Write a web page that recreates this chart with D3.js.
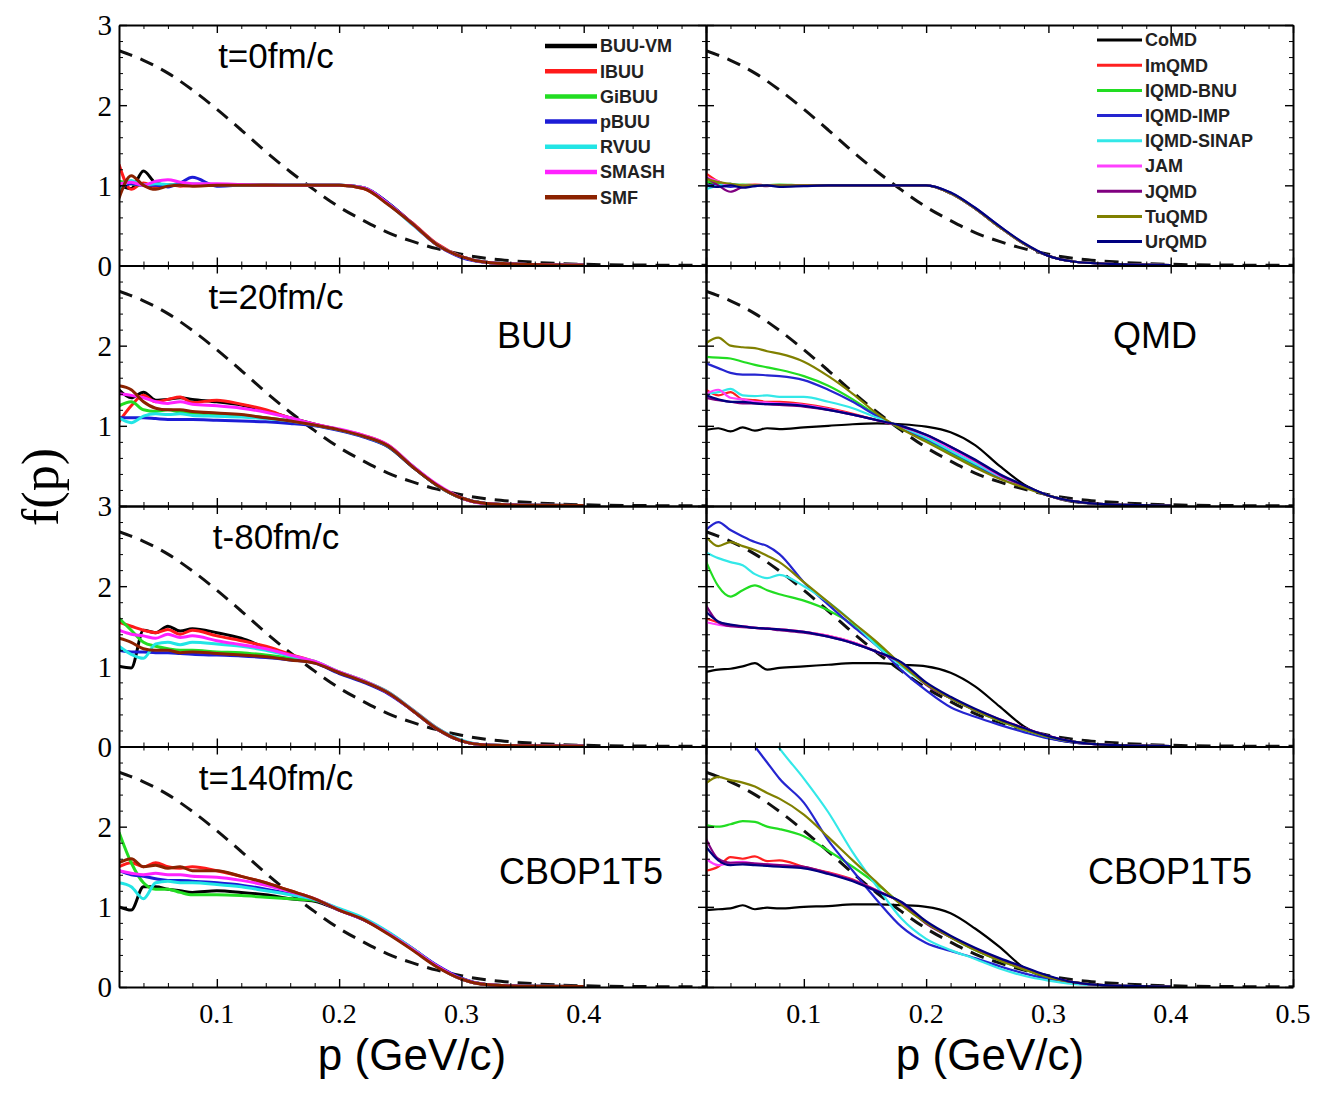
<!DOCTYPE html>
<html>
<head>
<meta charset="utf-8">
<script src="https://cdn.jsdelivr.net/npm/d3@7"></script>
<style>
  body { margin: 0; background: #fff; }
  svg { display: block; }
</style>
</head>
<body>
<svg width="1320" height="1093"></svg>
<script>
// momentum grid shared by every transport curve (GeV/c)
const pGrid = [0.02,0.03,0.04,0.05,0.06,0.07,0.08,0.10,0.12,0.14,0.16,0.18,0.20,0.22,0.24,0.26,0.28,0.30,0.32,0.35,0.40]

// dashed reference curve (same in all panels)
const refP = [0.02,0.04,0.06,0.08,0.10,0.12,0.14,0.16,0.18,0.20,0.22,0.24,0.26,0.28,0.30,0.32,0.34,0.36,0.38,0.40,0.45,0.50]
const refF = [2.68,2.56,2.40,2.19,1.95,1.69,1.42,1.17,0.94,0.73,0.56,0.41,0.30,0.21,0.14,0.09,0.06,0.04,0.024,0.015,0.005,0.002]

// model names
const buuModels = ['BUU-VM','IBUU','GiBUU','pBUU','RVUU','SMASH','SMF']
const qmdModels = ['CoMD','ImQMD','IQMD-BNU','IQMD-IMP','IQMD-SINAP','JAM','JQMD','TuQMD','UrQMD']

// BUU type codes, one row per model (same order as buuModels)
const buuT0 = [
  [1.00,0.96,1.18,1.03,1.00,1.02,1.00,1.01,1.00,1.00,1.00,1.00,1.00,0.97,0.78,0.52,0.26,0.11,0.04,0.015,0.005],
  [1.26,0.95,1.03,0.98,1.01,0.99,1.00,1.00,1.00,1.01,1.00,1.00,1.00,0.96,0.77,0.53,0.27,0.11,0.04,0.015,0.005],
  [1.05,1.02,1.00,1.02,1.00,1.01,1.00,1.00,1.00,1.00,1.00,1.00,1.00,0.97,0.77,0.52,0.26,0.11,0.04,0.015,0.005],
  [0.95,1.02,1.00,1.00,0.98,1.03,1.10,0.99,1.00,1.00,1.00,1.00,1.00,0.97,0.78,0.52,0.26,0.10,0.04,0.015,0.005],
  [0.92,1.06,1.00,1.02,1.01,1.00,1.02,1.01,1.00,1.00,1.00,1.00,1.00,0.97,0.77,0.51,0.26,0.11,0.04,0.015,0.005],
  [1.02,1.04,1.00,1.05,1.07,1.04,1.02,1.02,1.01,1.00,1.00,1.00,1.00,0.97,0.77,0.52,0.26,0.11,0.04,0.015,0.005],
  [0.84,1.12,1.00,0.95,0.99,1.00,0.99,1.00,1.00,1.00,1.00,1.00,1.00,0.96,0.76,0.52,0.26,0.11,0.04,0.015,0.005]
]
const buuT20 = [
  [1.45,1.35,1.42,1.32,1.33,1.35,1.33,1.30,1.26,1.19,1.10,1.02,0.95,0.87,0.75,0.49,0.26,0.10,0.03,0.01,0.005],
  [1.05,1.25,1.38,1.30,1.33,1.36,1.29,1.32,1.27,1.20,1.10,1.02,0.95,0.88,0.76,0.50,0.26,0.10,0.03,0.01,0.005],
  [1.25,1.30,1.20,1.18,1.20,1.17,1.16,1.15,1.13,1.10,1.06,1.01,0.95,0.87,0.74,0.49,0.26,0.10,0.03,0.01,0.005],
  [1.10,1.10,1.10,1.09,1.08,1.08,1.08,1.07,1.06,1.05,1.03,1.00,0.94,0.86,0.74,0.49,0.26,0.10,0.03,0.01,0.005],
  [1.10,1.04,1.12,1.15,1.14,1.15,1.13,1.12,1.11,1.09,1.06,1.01,0.95,0.87,0.75,0.50,0.26,0.10,0.03,0.01,0.005],
  [1.40,1.38,1.35,1.30,1.28,1.30,1.27,1.25,1.22,1.17,1.10,1.02,0.96,0.88,0.76,0.50,0.27,0.10,0.03,0.01,0.005],
  [1.50,1.45,1.30,1.22,1.20,1.20,1.18,1.16,1.14,1.10,1.06,1.01,0.95,0.87,0.75,0.49,0.26,0.10,0.03,0.01,0.005]
]
const buuT80 = [
  [1.00,0.98,1.45,1.42,1.50,1.44,1.47,1.42,1.35,1.23,1.13,1.05,0.92,0.81,0.67,0.45,0.22,0.07,0.02,0.01,0.005],
  [1.55,1.50,1.45,1.42,1.46,1.40,1.45,1.38,1.32,1.25,1.15,1.06,0.93,0.82,0.68,0.46,0.23,0.07,0.02,0.01,0.005],
  [1.60,1.45,1.30,1.25,1.22,1.20,1.20,1.18,1.17,1.14,1.10,1.05,0.92,0.81,0.67,0.45,0.22,0.07,0.02,0.01,0.005],
  [1.20,1.18,1.18,1.17,1.17,1.16,1.15,1.14,1.13,1.11,1.08,1.04,0.91,0.80,0.66,0.45,0.22,0.07,0.02,0.01,0.005],
  [1.25,1.15,1.10,1.28,1.30,1.27,1.30,1.28,1.25,1.20,1.13,1.06,0.93,0.82,0.68,0.46,0.23,0.08,0.02,0.01,0.005],
  [1.45,1.40,1.38,1.35,1.40,1.36,1.38,1.32,1.27,1.22,1.14,1.06,0.93,0.82,0.67,0.45,0.22,0.07,0.02,0.01,0.005],
  [1.35,1.30,1.22,1.20,1.20,1.17,1.18,1.16,1.14,1.12,1.08,1.04,0.92,0.81,0.67,0.45,0.22,0.07,0.02,0.01,0.005]
]
const buuT140 = [
  [1.00,0.96,1.25,1.25,1.22,1.20,1.18,1.20,1.18,1.15,1.10,1.07,0.96,0.84,0.67,0.47,0.26,0.10,0.03,0.01,0.005],
  [1.50,1.55,1.50,1.55,1.50,1.48,1.50,1.45,1.38,1.30,1.20,1.10,0.97,0.85,0.68,0.48,0.26,0.10,0.03,0.01,0.005],
  [1.93,1.55,1.30,1.22,1.22,1.18,1.15,1.15,1.14,1.12,1.10,1.08,0.97,0.85,0.68,0.47,0.26,0.10,0.03,0.01,0.005],
  [1.45,1.40,1.38,1.35,1.33,1.33,1.32,1.30,1.27,1.22,1.16,1.09,0.96,0.84,0.68,0.48,0.27,0.11,0.03,0.01,0.005],
  [1.30,1.25,1.10,1.30,1.32,1.30,1.30,1.28,1.25,1.20,1.15,1.09,0.98,0.86,0.69,0.48,0.26,0.10,0.03,0.01,0.005],
  [1.45,1.42,1.40,1.42,1.40,1.40,1.38,1.37,1.33,1.27,1.19,1.10,0.96,0.84,0.67,0.47,0.26,0.10,0.03,0.01,0.005],
  [1.55,1.60,1.50,1.52,1.48,1.50,1.45,1.45,1.38,1.30,1.20,1.10,0.96,0.84,0.66,0.46,0.25,0.10,0.03,0.01,0.005]
]

// QMD type codes, one row per model (same order as qmdModels)
const qmdT0 = [
  [1.05,1.00,1.02,0.98,1.00,1.00,0.99,1.00,1.00,1.00,1.00,1.00,1.00,0.90,0.71,0.48,0.27,0.12,0.05,0.02,0.005],
  [1.15,1.05,1.00,1.00,1.01,1.00,1.00,1.00,1.00,1.00,1.00,1.00,1.00,0.90,0.71,0.48,0.27,0.12,0.05,0.02,0.005],
  [1.05,1.02,1.00,1.01,1.00,1.00,1.01,1.00,1.00,1.00,1.00,1.00,1.00,0.90,0.71,0.48,0.27,0.12,0.05,0.02,0.005],
  [1.00,1.00,0.98,1.00,0.99,1.00,1.00,1.00,1.00,1.00,1.00,1.00,1.00,0.91,0.72,0.49,0.27,0.12,0.05,0.02,0.005],
  [0.95,1.00,1.02,1.00,1.00,1.00,1.00,1.00,1.00,1.00,1.00,1.00,1.00,0.90,0.71,0.48,0.27,0.12,0.05,0.02,0.005],
  [1.10,1.05,1.00,1.00,1.00,1.00,1.00,1.00,1.00,1.00,1.00,1.00,1.00,0.90,0.71,0.48,0.27,0.12,0.05,0.02,0.005],
  [1.10,1.00,0.92,0.98,1.00,0.99,1.00,1.00,1.00,1.00,1.00,1.00,1.00,0.90,0.71,0.48,0.27,0.12,0.05,0.02,0.005],
  [1.08,1.04,1.02,1.00,1.00,1.00,1.00,1.00,1.00,1.00,1.00,1.00,1.00,0.90,0.71,0.48,0.27,0.12,0.05,0.02,0.005],
  [1.00,0.98,1.00,0.97,0.99,1.00,0.98,0.99,1.00,1.00,1.00,1.00,1.00,0.91,0.72,0.49,0.28,0.12,0.05,0.02,0.005]
]
const qmdT20 = [
  [0.95,0.97,0.93,0.98,0.94,0.97,0.96,0.98,1.00,1.02,1.03,1.02,0.99,0.92,0.76,0.50,0.27,0.13,0.05,0.02,0.005],
  [1.45,1.38,1.42,1.33,1.32,1.30,1.30,1.27,1.22,1.15,1.07,0.99,0.88,0.72,0.56,0.38,0.25,0.13,0.06,0.02,0.005],
  [1.86,1.85,1.84,1.80,1.76,1.73,1.70,1.62,1.50,1.33,1.13,0.96,0.82,0.66,0.50,0.35,0.24,0.13,0.06,0.02,0.005],
  [1.78,1.72,1.66,1.64,1.64,1.63,1.62,1.57,1.45,1.30,1.12,0.97,0.84,0.68,0.52,0.36,0.24,0.13,0.06,0.02,0.005],
  [1.40,1.42,1.46,1.38,1.37,1.38,1.36,1.36,1.30,1.22,1.10,0.98,0.85,0.69,0.53,0.37,0.25,0.13,0.06,0.02,0.005],
  [1.40,1.45,1.35,1.33,1.30,1.29,1.28,1.26,1.21,1.14,1.07,0.99,0.88,0.72,0.56,0.38,0.25,0.13,0.06,0.02,0.005],
  [1.35,1.32,1.30,1.28,1.28,1.27,1.26,1.24,1.20,1.14,1.07,0.99,0.89,0.74,0.57,0.39,0.25,0.13,0.06,0.02,0.005],
  [2.03,2.10,2.00,1.98,1.97,1.93,1.90,1.80,1.62,1.40,1.15,0.96,0.80,0.64,0.48,0.34,0.23,0.13,0.06,0.02,0.005],
  [1.38,1.33,1.30,1.30,1.28,1.27,1.27,1.25,1.20,1.14,1.07,1.00,0.89,0.74,0.58,0.40,0.26,0.13,0.06,0.02,0.005]
]
const qmdT80 = [
  [0.93,0.96,0.97,1.00,1.04,0.96,0.98,1.00,1.02,1.04,1.04,1.02,1.00,0.92,0.75,0.50,0.25,0.11,0.05,0.02,0.005],
  [1.60,1.55,1.51,1.50,1.48,1.47,1.46,1.43,1.38,1.30,1.18,1.04,0.78,0.61,0.46,0.34,0.23,0.13,0.06,0.02,0.005],
  [2.31,2.00,1.87,1.95,2.01,1.95,1.90,1.82,1.70,1.52,1.28,1.02,0.78,0.60,0.45,0.32,0.21,0.12,0.06,0.02,0.005],
  [2.70,2.80,2.70,2.62,2.55,2.50,2.40,2.05,1.77,1.50,1.25,0.95,0.70,0.49,0.37,0.27,0.18,0.10,0.05,0.02,0.005],
  [2.42,2.35,2.30,2.26,2.15,2.10,2.14,2.00,1.80,1.55,1.25,1.00,0.78,0.60,0.45,0.32,0.21,0.12,0.06,0.02,0.005],
  [1.55,1.52,1.50,1.50,1.48,1.47,1.46,1.43,1.38,1.30,1.18,1.04,0.78,0.61,0.46,0.34,0.23,0.13,0.06,0.02,0.005],
  [1.76,1.55,1.50,1.49,1.48,1.47,1.45,1.42,1.37,1.29,1.18,1.04,0.77,0.60,0.45,0.33,0.23,0.13,0.06,0.02,0.005],
  [2.62,2.50,2.55,2.50,2.45,2.38,2.30,2.05,1.80,1.55,1.30,1.02,0.78,0.60,0.45,0.32,0.21,0.12,0.06,0.02,0.005],
  [1.68,1.56,1.52,1.50,1.48,1.47,1.46,1.43,1.37,1.29,1.18,1.05,0.80,0.62,0.47,0.34,0.23,0.13,0.06,0.02,0.005]
]
const qmdT140 = [
  [0.96,0.97,0.98,1.02,0.97,0.99,0.98,1.00,1.01,1.03,1.03,1.02,1.00,0.92,0.73,0.50,0.24,0.11,0.05,0.02,0.005],
  [1.45,1.50,1.62,1.60,1.63,1.57,1.58,1.50,1.43,1.34,1.20,1.05,0.80,0.63,0.48,0.35,0.24,0.13,0.06,0.02,0.005],
  [2.02,2.00,2.03,2.07,2.06,2.00,1.97,1.88,1.70,1.50,1.28,1.03,0.80,0.62,0.46,0.33,0.22,0.12,0.06,0.02,0.005],
  [3.90,3.70,3.45,3.20,3.00,2.80,2.60,2.30,1.83,1.45,1.08,0.75,0.55,0.45,0.36,0.26,0.17,0.10,0.05,0.02,0.005],
  [4.20,4.00,3.80,3.60,3.40,3.20,2.98,2.60,2.18,1.68,1.25,0.85,0.60,0.46,0.35,0.23,0.14,0.08,0.04,0.02,0.005],
  [1.60,1.52,1.55,1.56,1.54,1.53,1.52,1.49,1.42,1.33,1.20,1.05,0.80,0.63,0.48,0.35,0.24,0.13,0.06,0.02,0.005],
  [1.85,1.60,1.55,1.55,1.54,1.53,1.52,1.50,1.42,1.33,1.20,1.05,0.79,0.62,0.47,0.35,0.24,0.13,0.06,0.02,0.005],
  [2.54,2.62,2.58,2.55,2.50,2.42,2.35,2.15,1.87,1.58,1.30,1.02,0.80,0.62,0.46,0.33,0.22,0.12,0.06,0.02,0.005],
  [1.75,1.58,1.52,1.53,1.52,1.51,1.50,1.48,1.41,1.32,1.19,1.06,0.82,0.64,0.49,0.36,0.25,0.14,0.06,0.02,0.005]
]

// line colours
const buuColors = ['#000000','#ff1a1a','#22dd22','#1c1cd6','#22e5e5','#ff22ff','#8b2200']
const qmdColors = ['#000000','#ff2020','#22dd22','#2525d0','#33e8e8','#ff40ff','#800080','#808000','#000080']

// panel texts
const timeLabels = ['t=0fm/c','t=20fm/c','t-80fm/c','t=140fm/c']
const typeLabels = [['', 'BUU', '', 'CBOP1T5'], ['', 'QMD', '', 'CBOP1T5']]

// tick labels
const yTickLabels = [[0,1,2,3],[1,2],[0,1,2,3],[0,1,2]]
const xTickLabels = [[0.1,0.2,0.3,0.4],[0.1,0.2,0.3,0.4,0.5]]
const xMajor = [0.1,0.2,0.3,0.4,0.5]
const yMajor = [0,1,2,3]

//---------------------------------------------------------------
const svg = d3.select('svg')
const margin = { top: 25, left: 119 }
const panelW = 587
const panelH = 240.5
// centre of the type label inside a panel, per column and row
const typeLabelX = [[0, 416, 0, 462], [0, 449, 0, 464]]

const xScale = d3.scaleLinear().domain([0.02, 0.5]).range([0, panelW])
const yScale = d3.scaleLinear().domain([0, 3]).range([panelH, 0])

// minor ticks every 0.02 in p and 0.2 in f
const xMinor = d3.range(1, 26).map(i => +(i * 0.02).toFixed(2)).filter(v => !xMajor.includes(v))
const yMinor = d3.range(1, 15).map(i => +(i * 0.2).toFixed(1)).filter(v => !yMajor.includes(v))

const columns = [
  { models: buuModels, colors: buuColors, data: [buuT0, buuT20, buuT80, buuT140], width: 3 },
  { models: qmdModels, colors: qmdColors, data: [qmdT0, qmdT20, qmdT80, qmdT140], width: 2.2 }
]

// one clip rect reused by every panel (user space of each panel group)
svg.append('defs').append('clipPath').attr('id', 'panelClip')
  .append('rect').attr('x', 0).attr('y', 0).attr('width', panelW).attr('height', panelH)

const curveLine = d3.line()
  .x((d, i) => xScale(pGrid[i]))
  .y(d => yScale(d))
  .curve(d3.curveMonotoneX)

const refLine = d3.line()
  .x(d => xScale(d[0]))
  .y(d => yScale(d[1]))
  .curve(d3.curveMonotoneX)

columns.forEach((col, c) => {
  col.data.forEach((rowData, r) => {
    const g = svg.append('g')
      .attr('transform', `translate(${margin.left + c * panelW}, ${margin.top + r * panelH})`)

    const plot = g.append('g').attr('clip-path', 'url(#panelClip)')

    // dashed reference
    plot.append('path')
      .datum(refP.map((p, i) => [p, refF[i]]))
      .attr('d', refLine)
      .attr('fill', 'none')
      .attr('stroke', '#111')
      .attr('stroke-width', 3)
      .attr('stroke-dasharray', '14,9')

    // model curves
    plot.selectAll('.model')
      .data(rowData)
      .enter().append('path')
        .attr('class', 'model')
        .attr('d', curveLine)
        .attr('fill', 'none')
        .attr('stroke', (d, i) => col.colors[i])
        .attr('stroke-width', col.width)
        .attr('stroke-linejoin', 'round')

    drawFrame(g)

    // time label (left column only)
    if (c === 0) {
      g.append('text')
        .attr('x', 157)
        .attr('y', 43)
        .attr('text-anchor', 'middle')
        .attr('font-family', 'Liberation Sans, Arial, sans-serif')
        .attr('font-size', 35)
        .text(timeLabels[r])
    }
    // model type label
    if (typeLabels[c][r]) {
      g.append('text')
        .attr('x', typeLabelX[c][r])
        .attr('y', r === 1 ? 82 : 137)
        .attr('text-anchor', 'middle')
        .attr('font-family', 'Liberation Sans, Arial, sans-serif')
        .attr('font-size', 36)
        .text(typeLabels[c][r])
    }

    // y tick labels on the left column
    if (c === 0) {
      g.selectAll('.ylab')
        .data(yTickLabels[r])
        .enter().append('text')
          .attr('class', 'ylab')
          .attr('x', -7)
          .attr('y', d => yScale(d))
          .attr('dy', '0.36em')
          .attr('text-anchor', 'end')
          .attr('font-family', 'Liberation Serif, Times New Roman, serif')
          .attr('font-size', 29)
          .text(d => d)
    }
    // x tick labels on the bottom row
    if (r === 3) {
      g.selectAll('.xlab')
        .data(xTickLabels[c])
        .enter().append('text')
          .attr('class', 'xlab')
          .attr('x', d => xScale(d))
          .attr('y', panelH + 36)
          .attr('text-anchor', 'middle')
          .attr('font-family', 'Liberation Serif, Times New Roman, serif')
          .attr('font-size', 28)
          .text(d => d)
    }
    // legend in the top row
    if (r === 0) drawLegend(g, col, c)
  })
})

function drawFrame(g) {
  const sides = [
    { axis: d3.axisBottom(xScale), shift: `translate(0, ${panelH})`, major: xMajor, minor: xMinor },
    { axis: d3.axisTop(xScale), shift: 'translate(0, 0)', major: xMajor, minor: xMinor },
    { axis: d3.axisLeft(yScale), shift: 'translate(0, 0)', major: yMajor, minor: yMinor },
    { axis: d3.axisRight(yScale), shift: `translate(${panelW}, 0)`, major: yMajor, minor: yMinor }
  ]
  sides.forEach(s => {
    // major ticks, pointing inward
    g.append('g')
      .attr('transform', s.shift)
      .call(s.axis.tickValues(s.major).tickSize(-8).tickSizeOuter(0).tickFormat(''))
      .call(a => a.select('.domain').attr('stroke-width', 2))
      .call(a => a.selectAll('.tick line').attr('stroke-width', 1.4))
    // minor ticks
    g.append('g')
      .attr('transform', s.shift)
      .call(s.axis.tickValues(s.minor).tickSize(-4).tickSizeOuter(0).tickFormat(''))
      .call(a => a.select('.domain').remove())
      .call(a => a.selectAll('.tick line').attr('stroke-width', 1))
  })
}

function drawLegend(g, col, c) {
  const lx = c === 0 ? 426 : 391
  const len = c === 0 ? 52 : 45
  const top = c === 0 ? 21 : 15
  const step = 25.2
  const legend = g.selectAll('.legend')
    .data(col.models)
    .enter().append('g')
      .attr('class', 'legend')
      .attr('transform', (d, i) => `translate(${lx}, ${top + i * step})`)
  legend.append('line')
    .attr('x1', 0).attr('x2', len)
    .attr('stroke', (d, i) => col.colors[i])
    .attr('stroke-width', c === 0 ? 4.5 : 3)
  legend.append('text')
    .attr('x', len + 3)
    .attr('dy', '0.36em')
    .attr('font-family', 'Liberation Sans, Arial, sans-serif')
    .attr('font-weight', 'bold')
    .attr('font-size', 18)
    .attr('fill', '#222')
    .text(d => d)
}

// y axis title
svg.append('text')
  .attr('transform', 'translate(58, 487) rotate(-90)')
  .attr('text-anchor', 'middle')
  .attr('font-family', 'Liberation Serif, Times New Roman, serif')
  .attr('font-size', 52)
  .text('f(p)')

// x axis titles
;[412, 990].forEach(cx => {
  svg.append('text')
    .attr('x', cx)
    .attr('y', 1070)
    .attr('text-anchor', 'middle')
    .attr('font-family', 'Liberation Sans, Arial, sans-serif')
    .attr('font-size', 44)
    .text('p (GeV/c)')
})
</script>
</body>
</html>
